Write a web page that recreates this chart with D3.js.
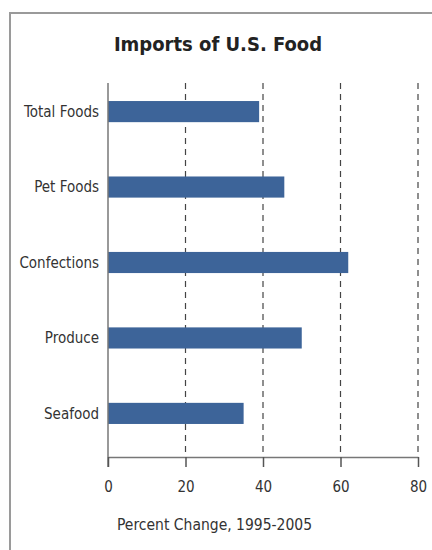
<!DOCTYPE html>
<html>
<head>
<meta charset="utf-8">
<script src="https://cdn.jsdelivr.net/npm/d3@7"></script>
<style>
  body { margin: 0; background: #fff; }
  text { font-family: "DejaVu Sans Condensed", "DejaVu Sans", sans-serif; font-stretch: condensed; fill: #333; }
</style>
</head>
<body>
<svg id="chart" width="432" height="550"></svg>
<script>
// data
var categories = ["Total Foods", "Pet Foods", "Confections", "Produce", "Seafood"];
var values = [39, 45.5, 62, 50, 35];
var ticks = [0, 20, 40, 60, 80];

var svg = d3.select("#chart"),
    plotLeft = 108, plotRight = 418,
    plotTop = 83, plotBottom = 457;

// frame round the chart, runs off the right and bottom edges
svg.append("rect")
    .attr("x", 10).attr("y", 13)
    .attr("width", 440).attr("height", 560)
    .attr("fill", "none")
    .attr("stroke", "#9a9a9a")
    .attr("stroke-width", 2);

svg.append("text")
    .attr("x", 218).attr("y", 51)
    .attr("text-anchor", "middle")
    .style("font-size", "20px")
    .style("font-weight", "bold")
    .style("fill", "#222")
    .text("Imports of U.S. Food");

var x = d3.scaleLinear().domain([0, 80]).range([plotLeft, plotRight]);
var y = d3.scaleBand().domain(categories).range([75, 450]).paddingInner(0.72).paddingOuter(0.345);

// dashed grid lines
svg.selectAll(".grid")
    .data(ticks.slice(1))
    .enter().append("line")
    .attr("x1", function (d) { return x(d); })
    .attr("x2", function (d) { return x(d); })
    .attr("y1", plotTop).attr("y2", plotBottom)
    .attr("stroke", "#444")
    .attr("stroke-width", 1.2)
    .attr("stroke-dasharray", "6,5");

// bars
svg.selectAll(".bar")
    .data(values)
    .enter().append("rect")
    .attr("x", x(0))
    .attr("y", function (d, i) { return y(categories[i]); })
    .attr("width", function (d) { return x(d) - x(0); })
    .attr("height", y.bandwidth())
    .attr("fill", "#3d6499");

// category labels
svg.selectAll(".cat")
    .data(categories)
    .enter().append("text")
    .attr("x", plotLeft - 9)
    .attr("y", function (d) { return y(d) + y.bandwidth() / 2; })
    .attr("dy", "0.35em")
    .attr("text-anchor", "end")
    .style("font-size", "15px")
    .text(function (d) { return d; });

// y axis line
svg.append("line")
    .attr("x1", x(0)).attr("x2", x(0))
    .attr("y1", plotTop).attr("y2", plotBottom + 10)
    .attr("stroke", "#777").attr("stroke-width", 1.5);

// x axis
var xAxis = svg.append("g")
    .attr("transform", "translate(0," + plotBottom + ")")
    .call(d3.axisBottom(x).tickValues(ticks).tickSize(10).tickSizeOuter(0));
xAxis.attr("font-family", null);
xAxis.select(".domain").attr("stroke", "#777").attr("stroke-width", 1.5);
xAxis.selectAll(".tick line").attr("stroke", "#555").attr("stroke-width", 1.5);
xAxis.selectAll(".tick text")
    .attr("y", 24)
    .style("font-size", "15px")
    .style("fill", "#333");

svg.append("text")
    .attr("x", 117).attr("y", 530)
    .style("font-size", "15.5px")
    .text("Percent Change, 1995-2005");
</script>
</body>
</html>
